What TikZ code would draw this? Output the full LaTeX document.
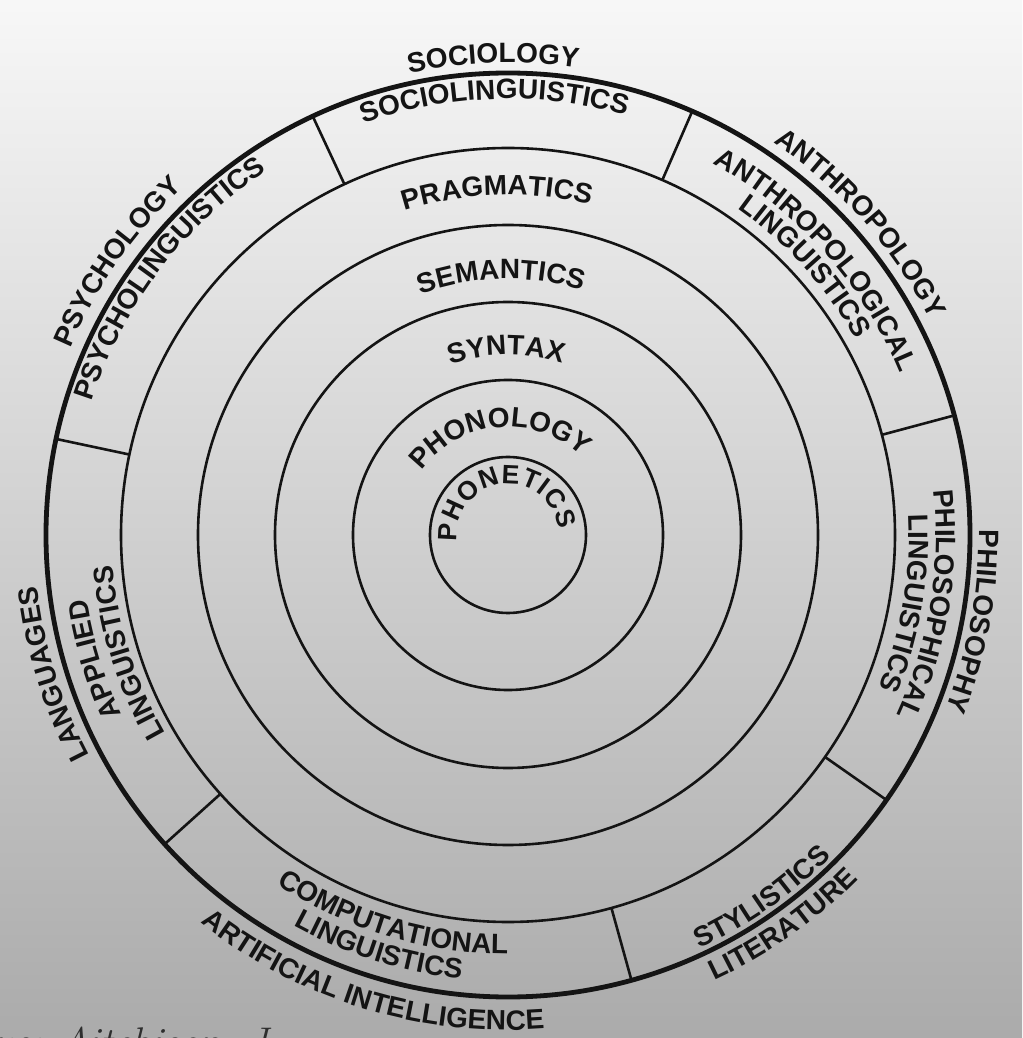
\documentclass[tikz,border=0pt]{standalone}
\usepackage{fontspec}
\newfontfamily\labfamily{Liberation Sans}
\usetikzlibrary{decorations.text}
\definecolor{ink}{gray}{0.08}
\definecolor{pencil}{gray}{0.18}
\newcommand\labfont{\labfamily\bfseries\fontsize{28}{32}\selectfont\color{ink}}
\newcommand\tinyfont{\labfamily\bfseries\fontsize{26.5}{30}\selectfont\color{ink}}
% clockwise label (tops outward): [half span]{baseline radius}{centre angle}{text}
\newcommand\cwtext[4][60]{%
  \path[decorate,decoration={text along path,text align=center,text={|\labfont|#4}}]
    ({#3+#1}:#2pt) arc[start angle={#3+#1}, end angle={#3-#1}, radius=#2pt];}
% counter-clockwise label (tops inward)
\newcommand\ccwtext[4][60]{%
  \path[decorate,decoration={text along path,text align=center,text={|\labfont|#4}}]
    ({#3-#1}:#2pt) arc[start angle={#3-#1}, end angle={#3+#1}, radius=#2pt];}
\begin{document}
\begin{tikzpicture}[x=1pt,y=1pt,
  ring/.style={draw=ink,line width=2.6pt},
  outerring/.style={draw=ink,line width=4.8pt},
  divider/.style={draw=ink,line width=2.6pt}]
% background (photo of a page: light at top, grey at bottom)
\shade[top color=white!97!black, middle color=black!11, bottom color=black!33]
  (-508,-503) rectangle (514,535);
\useasboundingbox (-508,-503) rectangle (514,535);
% rings
\draw[ring] (0,0) circle[radius=78pt];
\draw[ring] (0,0) circle[radius=155pt];
\draw[ring] (0,0) circle[radius=233pt];
\draw[ring] (0,0) circle[radius=310pt];
\draw[ring] (0,0) circle[radius=387pt];
\draw[outerring] (0,0) circle[radius=462pt];
% dividers of the outer band
\foreach \a in {15,66.5,115,168,222,285.5,325}
  \draw[divider] (\a:387pt) -- (\a:461pt);
% core labels
\path[decorate,decoration={text along path,text align=fit to path,text={|\tinyfont|PHONETICS}}]
  (187:51pt) arc[start angle=187, end angle=6, radius=51pt];
\cwtext[80]{108}{95}{PHONOLOGY}
\cwtext{180}{90.6}{SYNTAX}
\cwtext{256}{91.5}{SEMANTICS}
\cwtext{340}{91.8}{PRAGMATICS}
% outer band, inside
\cwtext{436}{91.8}{SOCIOLINGUISTICS}
\cwtext{437}{142.9}{PSYCHOLINGUISTICS}
\cwtext{424}{41.8}{ANTHROPOLOGICAL}
\cwtext{399}{42.1}{LINGUISTICS}
\cwtext{428}{-9.4}{PHILOSOPHICAL}
\cwtext{401}{-9.7}{LINGUISTICS}
\cwtext{426}{196.8}{APPLIED}
\cwtext{396}{197.2}{LINGUISTICS}
\ccwtext{419}{253.2}{COMPUTATIONAL}
\ccwtext{446}{252.6}{LINGUISTICS}
\ccwtext{456}{305}{STYLISTICS}
% outside the circle
\cwtext{472}{91.8}{SOCIOLOGY}
\cwtext{476}{145}{PSYCHOLOGY}
\cwtext{474}{41.5}{ANTHROPOLOGY}
\cwtext{471}{-10.5}{PHILOSOPHY}
\cwtext{473}{197}{LANGUAGES}
\ccwtext{495}{252.9}{ARTIFICIAL INTELLIGENCE}
\ccwtext{491}{305.2}{LITERATURE}
% handwritten note, cut off by the page edge
\node[anchor=base west,inner sep=0pt,text=pencil,font=\itshape\fontsize{40}{44}\selectfont]
  (note) at (-515,-520) {us: Aitchison, J};
\end{tikzpicture}
\end{document}
